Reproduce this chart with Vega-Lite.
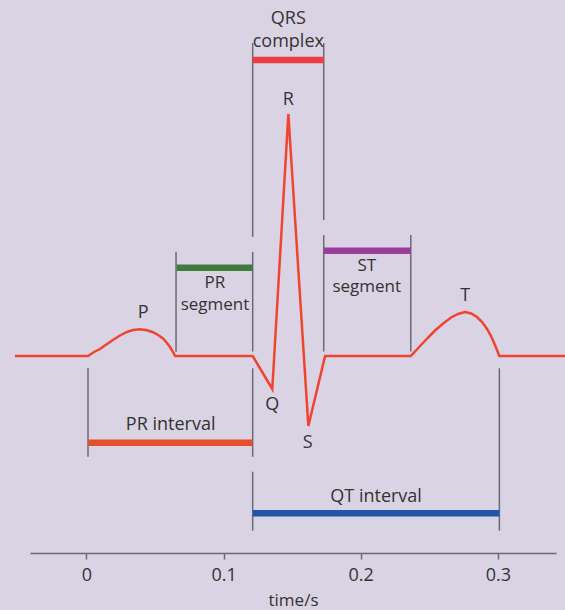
{
  "$schema": "https://vega.github.io/schema/vega-lite/v6.json",
  "autosize": {"type": "none"},
  "width": 526,
  "height": 553,
  "padding": {"left": 30, "top": 0, "right": 9, "bottom": 57},
  "background": "#d9d3e4",
  "config": {"view": {"stroke": null}},
  "datasets": {
    "ecg": [
      {"t": -0.0522, "v": 0},
      {"t": 0.0011, "v": 0},
      {"t": 0.0055, "v": 0.02},
      {"t": 0.0098, "v": 0.035},
      {"t": 0.015, "v": 0.06},
      {"t": 0.0193, "v": 0.08},
      {"t": 0.0244, "v": 0.1025},
      {"t": 0.0295, "v": 0.12},
      {"t": 0.0339, "v": 0.13},
      {"t": 0.039, "v": 0.1335},
      {"t": 0.0441, "v": 0.1285},
      {"t": 0.0485, "v": 0.119},
      {"t": 0.0522, "v": 0.105},
      {"t": 0.0558, "v": 0.0875},
      {"t": 0.0587, "v": 0.065},
      {"t": 0.0609, "v": 0.045},
      {"t": 0.0631, "v": 0.02},
      {"t": 0.0646, "v": 0},
      {"t": 0.1212, "v": 0},
      {"t": 0.1355, "v": -0.165},
      {"t": 0.1472, "v": 1.21},
      {"t": 0.1618, "v": -0.35},
      {"t": 0.174, "v": 0},
      {"t": 0.2365, "v": 0},
      {"t": 0.2419, "v": 0.04},
      {"t": 0.2484, "v": 0.0875},
      {"t": 0.2542, "v": 0.1275},
      {"t": 0.2601, "v": 0.1625},
      {"t": 0.2659, "v": 0.1925},
      {"t": 0.271, "v": 0.21},
      {"t": 0.2761, "v": 0.22},
      {"t": 0.2805, "v": 0.2125},
      {"t": 0.2848, "v": 0.195},
      {"t": 0.2885, "v": 0.17},
      {"t": 0.2921, "v": 0.135},
      {"t": 0.295, "v": 0.1},
      {"t": 0.2979, "v": 0.055},
      {"t": 0.3011, "v": 0},
      {"t": 0.349, "v": 0}
    ],
    "vlines": [
      {"t": 0.0011, "v1": -0.0615, "v2": -0.5035},
      {"t": 0.0653, "v1": 0.5215, "v2": 0.0215},
      {"t": 0.1212, "v1": 1.565, "v2": 0.595},
      {"t": 0.1212, "v1": 0.52, "v2": 0.0225},
      {"t": 0.1212, "v1": -0.0615, "v2": -0.5035},
      {"t": 0.1212, "v1": -0.5785, "v2": -0.8735},
      {"t": 0.173, "v1": 1.565, "v2": 0.68},
      {"t": 0.173, "v1": 0.605, "v2": 0.0225},
      {"t": 0.2365, "v1": 0.605, "v2": 0.0225},
      {"t": 0.3011, "v1": -0.0615, "v2": -0.8735}
    ],
    "bars": [
      {"name": "PR interval", "t1": 0.0011, "t2": 0.1212, "v": -0.4335},
      {"name": "PR segment", "t1": 0.0658, "t2": 0.1212, "v": 0.4415},
      {"name": "QRS complex", "t1": 0.1212, "t2": 0.173, "v": 1.48},
      {"name": "ST segment", "t1": 0.173, "t2": 0.2365, "v": 0.5265},
      {"name": "QT interval", "t1": 0.1212, "t2": 0.3011, "v": -0.7865}
    ],
    "labels": [
      {"t": 0.1472, "v": 1.6835, "text": "QRS"},
      {"t": 0.1472, "v": 1.5715, "text": "complex"},
      {"t": 0.1472, "v": 1.28, "text": "R"},
      {"t": 0.0414, "v": 0.2165, "text": "P"},
      {"t": 0.1355, "v": -0.245, "text": "Q"},
      {"t": 0.1613, "v": -0.4335, "text": "S"},
      {"t": 0.2761, "v": 0.3, "text": "T"},
      {"t": 0.0614, "v": -0.345, "text": "PR interval"},
      {"t": 0.2112, "v": -0.7065, "text": "QT interval"}
    ],
    "stacked": [
      {"t": 0.0937, "v": 0.3675, "text": "PR"},
      {"t": 0.0937, "v": 0.2575, "text": "segment"},
      {"t": 0.2044, "v": 0.4515, "text": "ST"},
      {"t": 0.2044, "v": 0.3465, "text": "segment"}
    ]
  },
  "layer": [
    {
      "data": {"name": "vlines"},
      "mark": {"type": "rule", "color": "#6a6a7a", "strokeWidth": 1.5},
      "encoding": {
        "x": {
          "field": "t", "type": "quantitative",
          "scale": {"domain": [-0.0412, 0.3424], "nice": false, "zero": false},
          "axis": {
            "title": "time/s",
            "values": [0, 0.1, 0.2, 0.3],
            "format": ".1~f",
            "grid": false,
            "domainColor": "#6a6a7a",
            "domainWidth": 1.5,
            "tickColor": "#6a6a7a",
            "tickWidth": 1.5,
            "tickSize": 6,
            "labelFont": "Open Sans",
            "labelFontSize": 18,
            "labelColor": "#333333",
            "labelPadding": 7,
            "titleFont": "Open Sans",
            "titleFontSize": 17,
            "titleFontWeight": "normal",
            "titleColor": "#333333",
            "titlePadding": 8
          }
        },
        "y": {
          "field": "v1", "type": "quantitative",
          "scale": {"domain": [-0.985, 1.78], "nice": false, "zero": false},
          "axis": null
        },
        "y2": {"field": "v2"}
      }
    },
    {
      "data": {"name": "bars"},
      "mark": {"type": "rule", "strokeWidth": 6.5},
      "encoding": {
        "x": {"field": "t1", "type": "quantitative"},
        "x2": {"field": "t2"},
        "y": {"field": "v", "type": "quantitative"},
        "color": {
          "field": "name", "type": "nominal",
          "scale": {
            "domain": ["PR interval", "PR segment", "QRS complex", "ST segment", "QT interval"],
            "range": ["#e4502b", "#3f7b3b", "#ef3b42", "#9c3d9c", "#2156a5"]
          },
          "legend": null
        }
      }
    },
    {
      "data": {"name": "ecg"},
      "mark": {"type": "line", "color": "#f2432f", "strokeWidth": 2.5, "clip": false},
      "encoding": {
        "x": {"field": "t", "type": "quantitative"},
        "y": {"field": "v", "type": "quantitative"}
      }
    },
    {
      "data": {"name": "labels"},
      "mark": {"type": "text", "font": "Open Sans", "fontSize": 18, "color": "#333333", "baseline": "middle", "align": "center"},
      "encoding": {
        "x": {"field": "t", "type": "quantitative"},
        "y": {"field": "v", "type": "quantitative"},
        "text": {"field": "text"}
      }
    },
    {
      "data": {"name": "stacked"},
      "mark": {"type": "text", "font": "Open Sans", "fontSize": 17, "color": "#333333", "baseline": "middle", "align": "center"},
      "encoding": {
        "x": {"field": "t", "type": "quantitative"},
        "y": {"field": "v", "type": "quantitative"},
        "text": {"field": "text"}
      }
    }
  ]
}
